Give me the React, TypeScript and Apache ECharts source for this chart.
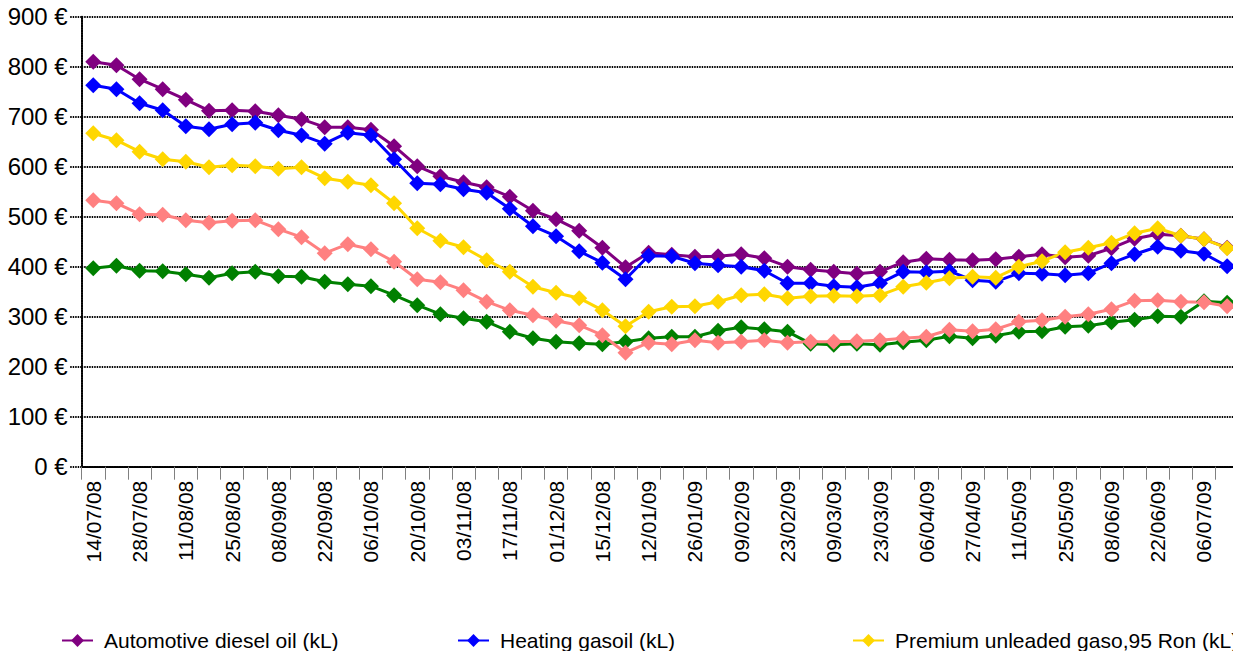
import React, { useEffect, useRef } from "react";
import * as echarts from "echarts";

const dates = [
  "14/07/08", "21/07/08", "28/07/08", "04/08/08", "11/08/08", "18/08/08", "25/08/08", "01/09/08", "08/09/08", "15/09/08",
  "22/09/08", "29/09/08", "06/10/08", "13/10/08", "20/10/08", "27/10/08", "03/11/08", "10/11/08", "17/11/08", "24/11/08",
  "01/12/08", "08/12/08", "15/12/08", "22/12/08", "12/01/09", "19/01/09", "26/01/09", "02/02/09", "09/02/09", "16/02/09",
  "23/02/09", "02/03/09", "09/03/09", "16/03/09", "23/03/09", "30/03/09", "06/04/09", "20/04/09", "27/04/09", "04/05/09",
  "11/05/09", "18/05/09", "25/05/09", "01/06/09", "08/06/09", "15/06/09", "22/06/09", "29/06/09", "06/07/09", "13/07/09",
];

const dieselName = "Automotive diesel oil (kL)";
const heatingName = "Heating gasoil (kL)";
const premiumName = "Premium unleaded gaso,95 Ron (kL)";
const series4Name = "Series 4";
const series5Name = "Series 5";

const diesel = [
  810, 803, 775, 755, 734, 712, 713, 711, 703, 695,
  679, 679, 674, 641, 601, 581, 569, 559, 540, 512,
  495, 472, 438, 399, 428, 424, 420, 421, 425, 417,
  400, 394, 390, 386, 390, 409, 416, 414, 413, 415,
  420, 425, 419, 422, 437, 456, 465, 462, 455, 438,
];
const heating = [
  763, 755, 727, 713, 681, 675, 685, 688, 673, 663,
  646, 668, 663, 615, 567, 565, 555, 548, 516, 481,
  461, 431, 408, 375, 422, 421, 407, 403, 400, 392,
  367, 367, 361, 359, 367, 390, 389, 391, 373, 370,
  387, 386, 383, 387, 407, 425, 440, 432, 426, 401,
];
const premium = [
  667, 653, 630, 615, 610, 599, 603, 601, 596, 599,
  577, 570, 563, 527, 477, 452, 439, 413, 390, 360,
  348, 337, 313, 281, 310, 320, 321, 330, 343, 345,
  337, 341, 342, 341, 343, 360, 368, 377, 380, 378,
  400, 411, 429, 438, 448, 467, 477, 462, 455, 437,
];
const greenSeries = [
  397, 402, 392, 391, 385, 378, 387, 390, 381, 380,
  370, 365, 361, 343, 323, 305, 297, 290, 270, 257,
  250, 247, 245, 250, 257, 260, 260, 272, 279, 275,
  270, 246, 244, 246, 244, 249, 253, 261, 257, 262,
  270, 271, 280, 282, 289, 294, 301, 300, 331, 328,
];
const pinkSeries = [
  533, 527, 505, 504, 493, 488, 492, 493, 475, 459,
  427, 445, 435, 410, 375, 369, 353, 330, 313, 303,
  292, 283, 263, 228, 248, 245, 253, 248, 250, 253,
  248, 250, 250, 251, 253, 257, 260, 274, 271, 275,
  290, 293, 300, 305, 315, 332, 333, 330, 329, 321,
];

export default function App() {
  const ref = useRef<HTMLDivElement>(null);
  useEffect(() => {
    const chart = echarts.init(ref.current!, null, { renderer: "svg" });
    const font = "'Liberation Sans', Arial, sans-serif";
    const dotted: any = { color: "#000", width: 2, type: [1.5, 1] };
    const mk = (name: string, data: number[], color: string) => ({
      type: "line",
      name,
      data,
      symbol: "diamond",
      symbolSize: 16,
      showAllSymbol: true,
      itemStyle: { color },
      lineStyle: { color, width: 3 },
      emphasis: { disabled: true },
    });
    const legendBase = {
      top: 625,
      itemWidth: 31,
      itemHeight: 16,
      textStyle: { fontSize: 21, color: "#000", fontFamily: font, padding: [0, 0, 0, 6] },
    };
    chart.setOption({
      animation: false,
      backgroundColor: "#fff",
      textStyle: { fontFamily: font },
      grid: { left: 81.7, top: 16.7, width: 1157, height: 450, containLabel: false },
      legend: [
        { ...legendBase, left: 56, data: [dieselName] },
        { ...legendBase, left: 452, data: [heatingName] },
        { ...legendBase, left: 847, data: [premiumName] },
      ],
      xAxis: {
        type: "category",
        data: dates,
        boundaryGap: true,
        axisLine: { show: true, lineStyle: dotted },
        axisTick: { show: true, interval: 0, length: 13, lineStyle: { color: "#808080", width: 1 } },
        axisLabel: { interval: 1, rotate: 90, fontSize: 21, margin: 14, color: "#000", fontFamily: font },
        splitLine: { show: false },
      },
      yAxis: {
        type: "value",
        min: 0,
        max: 900,
        interval: 100,
        axisLine: { show: true, lineStyle: dotted },
        axisTick: { show: true, length: 12, lineStyle: dotted },
        axisLabel: { formatter: "{value} €", fontSize: 24, margin: 14, color: "#000", fontFamily: font },
        splitLine: { show: true, lineStyle: dotted },
      },
      series: [
        mk(dieselName, diesel, "#800080"),
        mk(heatingName, heating, "#0000ff"),
        mk(premiumName, premium, "#ffd700"),
        mk(series4Name, greenSeries, "#008000"),
        mk(series5Name, pinkSeries, "#ff8080"),
      ],
    });
    return () => chart.dispose();
  }, []);
  return (
    <div style={{ position: "fixed", left: 0, top: 0, width: 1233, height: 651, overflow: "hidden", background: "#fff" }}>
      <div ref={ref} style={{ width: 1265, height: 700 }} />
    </div>
  );
}
